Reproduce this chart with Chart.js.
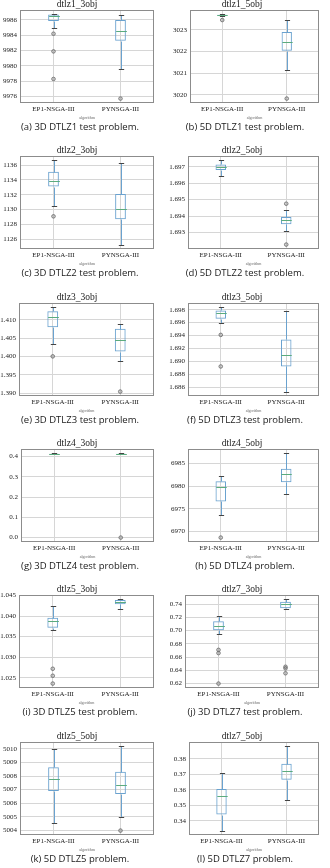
<!DOCTYPE html>
<html>
<head>
<meta charset="utf-8">
<script src="https://cdn.jsdelivr.net/npm/chart.js@4.4.1/dist/chart.umd.min.js"></script>
<style>
    body { margin: 0; background: #fff; width: 330px; height: 868px; overflow: hidden; position: relative; }
    .cell { position: absolute; width: 165px; height: 146px; }
    .cell canvas { position: absolute; left: 0; top: 0; }
    .caption {
        position: absolute; left: 0; top: 119px; width: 160px; height: 16px; line-height: 16px;
        text-align: center; font-family: 'Open Sans', sans-serif; font-size: 9.5px; color: #1a1a1a; white-space: nowrap;
    }
</style>
</head>
<body>
<script>
// Panel titles and captions
const panelNames = ['dtlz1_3obj', 'dtlz1_5obj', 'dtlz2_3obj', 'dtlz2_5obj', 'dtlz3_3obj', 'dtlz3_5obj',
    'dtlz4_3obj', 'dtlz4_5obj', 'dtlz5_3obj', 'dtlz7_3obj', 'dtlz5_5obj', 'dtlz7_5obj'];
const captions = ['(a) 3D DTLZ1 test problem.', '(b) 5D DTLZ1 test problem.', '(c) 3D DTLZ2 test problem.',
    '(d) 5D DTLZ2 test problem.', '(e) 3D DTLZ3 test problem.', '(f) 5D DTLZ3 test problem.',
    '(g) 3D DTLZ4 test problem.', '(h) 5D DTLZ4 problem.', '(i) 3D DTLZ5 test problem.',
    '(j) 3D DTLZ7 test problem.', '(k) 5D DTLZ5 problem.', '(l) 5D DTLZ7 problem.'];
const algorithms = ['EP1-NSGA-III', 'PYNSGA-III'];

// Box stats: [lower whisker, q1, median, q3, upper whisker]
const ep1Box = [
    [9984.9, 9985.85, 9986.45, 9986.7, 9986.75],
    [3023.62, 3023.65, 3023.68, 3023.7, 3023.72],
    [1130.45, 1133.1, 1133.9, 1135.1, 1136.65],
    [1.69644, 1.6968, 1.69698, 1.69714, 1.6974],
    [1.4034, 1.4079, 1.4107, 1.4123, 1.4134],
    [1.6959, 1.6966, 1.6975, 1.6979, 1.6984],
    [0.411, 0.4128, 0.4135, 0.4142, 0.416],
    [6973.7, 6976.6, 6979.8, 6981.1, 6982.35],
    [1.0367, 1.03717, 1.03875, 1.0396, 1.04255],
    [0.6956, 0.7005, 0.7071, 0.714, 0.7224],
    [5004.53, 5006.9, 5007.76, 5008.65, 5010.0],
    [0.3336, 0.344, 0.3558, 0.3606, 0.3709]
];
const pynBox = [
    [9979.63, 9983.27, 9984.5, 9986.0, 9986.6],
    [3021.16, 3022.03, 3022.45, 3022.9, 3023.45],
    [1125.3, 1128.7, 1130.1, 1132.1, 1136.3],
    [1.6931, 1.6935, 1.69375, 1.69394, 1.69435],
    [1.3986, 1.4013, 1.4045, 1.4075, 1.4089],
    [1.6853, 1.6892, 1.6910, 1.6934, 1.6978],
    [0.411, 0.4128, 0.4135, 0.4142, 0.416],
    [6978.3, 6980.85, 6982.8, 6983.85, 6987.3],
    [1.0418, 1.0429, 1.0435, 1.0439, 1.0441],
    [0.7322, 0.7336, 0.740, 0.7434, 0.7474],
    [5004.98, 5006.67, 5007.37, 5008.31, 5010.2],
    [0.3531, 0.3665, 0.3721, 0.3769, 0.3883]
];
const ep1Outliers = [
    [9984.2, 9981.9, 9978.3], [3023.45], [1129.1], [], [1.400], [1.6941, 1.6892],
    [], [6968.6], [1.0272, 1.0255, 1.0236], [0.6709, 0.666, 0.62], [], []
];
const pynOutliers = [
    [9975.74], [3019.82], [], [1.69475, 1.69226], [1.3904], [],
    [0.0], [], [], [0.6454, 0.643, 0.6356], [5003.98], []
];

// Y tick values and decimals
const yTicks = [
    [9976, 9978, 9980, 9982, 9984, 9986],
    [3020, 3021, 3022, 3023],
    [1126, 1128, 1130, 1132, 1134, 1136],
    [1.693, 1.694, 1.695, 1.696, 1.697],
    [1.390, 1.395, 1.400, 1.405, 1.410],
    [1.686, 1.688, 1.690, 1.692, 1.694, 1.696, 1.698],
    [0.0, 0.1, 0.2, 0.3, 0.4],
    [6970, 6975, 6980, 6985],
    [1.025, 1.030, 1.035, 1.040, 1.045],
    [0.62, 0.64, 0.66, 0.68, 0.70, 0.72, 0.74],
    [5004, 5005, 5006, 5007, 5008, 5009, 5010],
    [0.34, 0.35, 0.36, 0.37, 0.38]
];
const yDecimals = [0, 0, 0, 3, 3, 3, 1, 0, 3, 2, 0, 2];

// Layout: left edge of each plot area inside its cell
const plotLeft = [20, 25, 20, 23, 19, 23, 21, 23, 19, 20, 20, 24];

const SERIF = "'Liberation Serif', 'DejaVu Serif', serif";
const BOX_COLOR = '#6aa2cf';
const MEDIAN_COLOR = '#5bab7e';
const CAP_COLOR = '#444444';
const GRID_COLOR = '#d6d6d6';
const FRAME_COLOR = '#8c8c8c';

// Whiskers, caps, medians and frame drawn with the chart scales
const boxParts = {
    id: 'boxParts',
    afterDatasetsDraw(chart, args, opts) {
        const ctx = chart.ctx;
        const yScale = chart.scales.y;
        const meta = chart.getDatasetMeta(0);
        const py = v => Math.round(yScale.getPixelForValue(v)) + 0.5;
        ctx.save();
        ctx.lineWidth = 1;
        opts.stats.forEach((s, i) => {
            const bar = meta.data[i];
            const cx = Math.round(bar.x) + 0.5;
            const half = bar.width / 2;
            const [lo, q1, med, q3, hi] = s;

            ctx.strokeStyle = BOX_COLOR;
            ctx.beginPath();
            ctx.moveTo(cx, py(q3)); ctx.lineTo(cx, py(hi));
            ctx.moveTo(cx, py(q1)); ctx.lineTo(cx, py(lo));
            ctx.stroke();

            ctx.strokeStyle = CAP_COLOR;
            ctx.beginPath();
            ctx.moveTo(cx - half / 2, py(hi)); ctx.lineTo(cx + half / 2, py(hi));
            ctx.moveTo(cx - half / 2, py(lo)); ctx.lineTo(cx + half / 2, py(lo));
            ctx.stroke();

            ctx.strokeStyle = MEDIAN_COLOR;
            ctx.beginPath();
            ctx.moveTo(cx - half, py(med)); ctx.lineTo(cx + half, py(med));
            ctx.stroke();
        });
        ctx.restore();
    },
    afterDraw(chart) {
        const a = chart.chartArea;
        const ctx = chart.ctx;
        ctx.save();
        ctx.strokeStyle = FRAME_COLOR;
        ctx.lineWidth = 1;
        ctx.strokeRect(Math.round(a.left) + 0.5, Math.round(a.top) + 0.5,
            Math.round(a.right - a.left) - 1, Math.round(a.bottom - a.top) - 1);
        ctx.restore();
    }
};

function axisRange(i) {
    const all = ep1Box[i].concat(pynBox[i], ep1Outliers[i], pynOutliers[i]);
    const lo = Math.min(...all);
    const hi = Math.max(...all);
    const pad = (hi - lo) * 0.05;
    return [lo - pad, hi + pad];
}

function renderPanel(i) {
    const col = i % 2;
    const row = Math.floor(i / 2);
    const cell = document.createElement('div');
    cell.className = 'cell';
    cell.style.left = (col * 165) + 'px';
    cell.style.top = Math.round(row * 146.3) + 'px';

    const canvas = document.createElement('canvas');
    canvas.width = 165;
    canvas.height = 120;
    cell.appendChild(canvas);

    const cap = document.createElement('div');
    cap.className = 'caption';
    cap.textContent = captions[i];
    cell.appendChild(cap);
    document.body.appendChild(cell);

    const [yMin, yMax] = axisRange(i);
    const outlierPoints = ep1Outliers[i].map(v => ({ x: algorithms[0], y: v }))
        .concat(pynOutliers[i].map(v => ({ x: algorithms[1], y: v })));

    new Chart(canvas, {
        type: 'bar',
        data: {
            labels: algorithms,
            datasets: [
                {
                    data: [[ep1Box[i][1], ep1Box[i][3]], [pynBox[i][1], pynBox[i][3]]],
                    backgroundColor: 'rgba(0,0,0,0)',
                    borderColor: BOX_COLOR,
                    borderWidth: 1,
                    borderSkipped: false,
                    barPercentage: 0.16,
                    categoryPercentage: 1
                },
                {
                    type: 'line',
                    data: outlierPoints,
                    showLine: false,
                    pointRadius: 1.8,
                    pointBorderWidth: 0.8,
                    pointBorderColor: '#666',
                    pointBackgroundColor: 'rgba(130,130,130,0.35)'
                }
            ]
        },
        options: {
            responsive: false,
            animation: false,
            layout: { padding: { left: 0, right: 11, top: 0, bottom: 0 } },
            plugins: {
                legend: { display: false },
                tooltip: { enabled: false },
                title: {
                    display: true,
                    text: panelNames[i],
                    color: '#222',
                    font: { family: SERIF, size: 9.5, weight: 'normal', lineHeight: 1.05 },
                    padding: { top: 0, bottom: 0 }
                },
                boxParts: { stats: [ep1Box[i], pynBox[i]] }
            },
            scales: {
                x: {
                    type: 'category',
                    offset: true,
                    grid: { offset: false, color: GRID_COLOR, drawTicks: false },
                    border: { display: false },
                    ticks: {
                        color: '#222',
                        font: { family: SERIF, size: 7 },
                        padding: 2,
                        maxRotation: 0,
                        autoSkip: false
                    },
                    title: {
                        display: true,
                        text: 'algorithm',
                        color: '#666',
                        font: { family: SERIF, size: 4 },
                        padding: { top: 0, bottom: 0 }
                    }
                },
                y: {
                    min: yMin,
                    max: yMax,
                    beginAtZero: false,
                    grid: { color: GRID_COLOR, drawTicks: false },
                    border: { display: false },
                    ticks: {
                        color: '#222',
                        font: { family: SERIF, size: 7 },
                        padding: 3,
                        callback: v => Number(v).toFixed(yDecimals[i])
                    },
                    afterBuildTicks: s => { s.ticks = yTicks[i].map(v => ({ value: v })); },
                    afterFit: s => { s.width = plotLeft[i]; }
                }
            }
        },
        plugins: [boxParts]
    });
}

panelNames.forEach((name, i) => renderPanel(i));
</script>
</body>
</html>
